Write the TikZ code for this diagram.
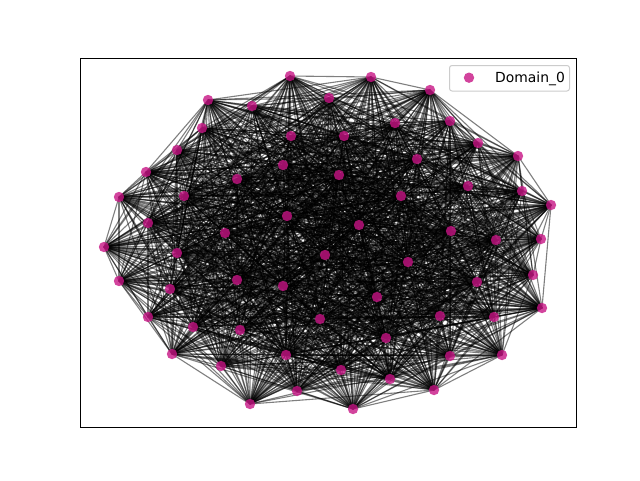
\documentclass[tikz,border=0pt]{standalone}
\usepackage{fontspec}
\setmainfont{DejaVu Sans}
\usetikzlibrary{backgrounds}
\definecolor{dom}{RGB}{199,21,133}
\begin{document}
\begin{tikzpicture}[x=1pt,y=-1pt,
  dot/.style={circle,fill=dom,fill opacity=0.8,draw=none,minimum size=10.4pt,inner sep=0pt},
  edge/.style={black,opacity=0.5,line width=1.1pt},
  axframe/.style={black,line width=0.9pt},
  legendbox/.style={draw=black!20,fill=white,fill opacity=0.8,rounded corners=2.5pt,line width=1pt,minimum width=120pt,minimum height=25.5pt,inner sep=0pt},
  legtext/.style={font=\fontsize{13.9}{16}\selectfont,inner sep=0pt}]
\useasboundingbox (0,0) rectangle (640,480);
\foreach \k/\x/\y in {1/290/76, 2/371/77, 3/430/90, 4/208/100, 5/252/106, 6/329/98, 7/450/121, 8/395/123, 9/202/128, 10/478/143,
  11/291/136, 12/344/136, 13/518/156, 14/177/150, 15/417/159, 16/283/165, 17/339/175, 18/146/172, 19/237/179, 20/468/186,
  21/522/191, 22/119/197, 23/184/196, 24/401/196, 25/551/205, 26/287/216, 27/148/223, 28/359/225, 29/225/233, 30/451/231,
  31/541/239, 32/104/247, 33/177/253, 34/496/240, 35/325/255, 36/408/262, 37/533/275, 38/119/281, 39/237/280, 40/283/286,
  41/477/282, 42/170/289, 43/377/297, 44/542/308, 45/148/317, 46/440/316, 47/494/317, 48/320/319, 49/193/327, 50/240/330,
  51/386/338, 52/172/354, 53/286/355, 54/450/356, 55/502/355, 56/221/366, 57/341/370, 58/390/379, 59/297/391, 60/434/390,
  61/250/404, 62/353/409}
  \node[dot] (n\k) at (\x,\y) {};
\begin{scope}[on background layer]
\pgfmathsetseed{7}
\foreach \i in {1,...,61}{
  \pgfmathtruncatemacro\s{\i+1}
  \foreach \j in {\s,...,62}{
    \pgfmathrandominteger{\r}{1}{100}
    \ifnum\r<78 \draw[edge] (n\i.center)--(n\j.center);\fi
  }}
\end{scope}
\draw[axframe] (80,58) rectangle (576,427);
\node[legendbox,anchor=north west] (legend) at (449,65) {};
\node[dot] (legdot) at (469,77.7) {};
\node[legtext,anchor=base west] (legtxt) at (495,82) {Domain\_0};
\end{tikzpicture}
\end{document}
